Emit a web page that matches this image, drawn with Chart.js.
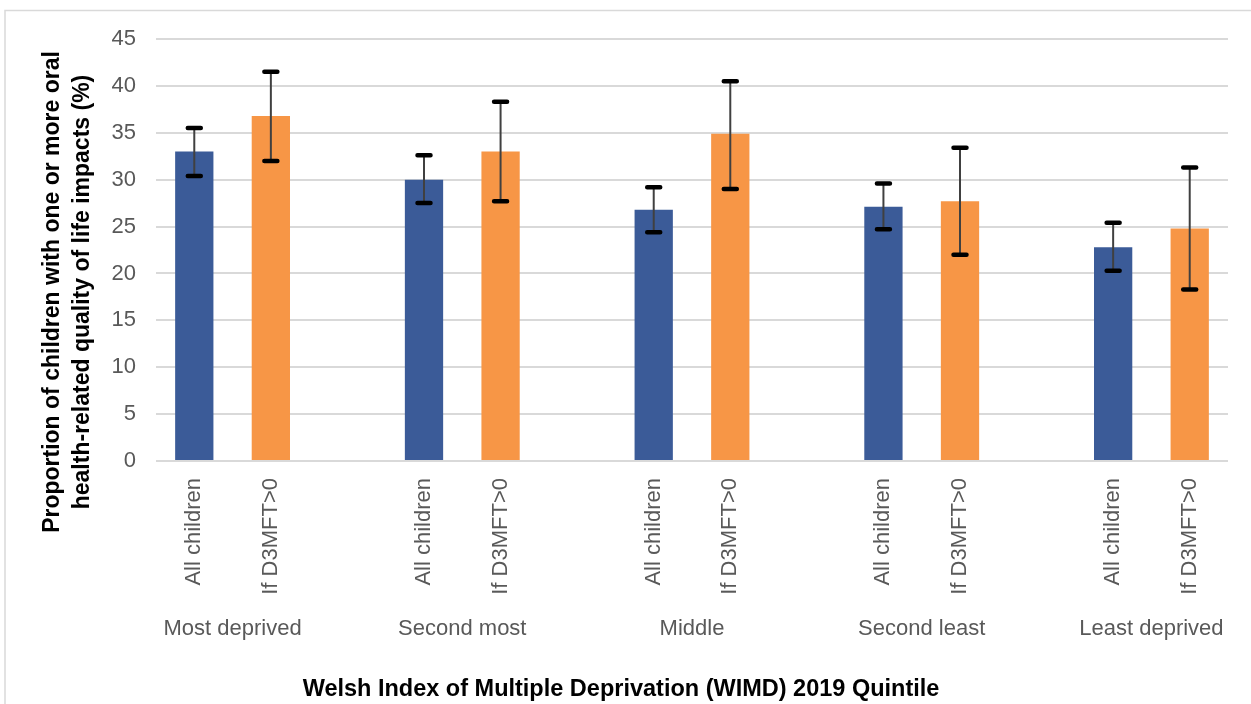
<!DOCTYPE html>
<html>
<head>
<meta charset="utf-8">
<script src="https://cdn.jsdelivr.net/npm/chart.js@4"></script>
<style>
  html, body { margin: 0; padding: 0; background: #fff; }
  #wrap { width: 1251px; height: 704px; }
</style>
</head>
<body>
<div id="wrap"><canvas id="bar-chart" width="1251" height="704"></canvas></div>
<script>
// quintile groups and the two bars inside each
var groups = ["Most deprived", "Second most", "Middle", "Second least", "Least deprived"];
var subLabels = ["All children", "If D3MFT>0"];

// proportion (%) with 95% CI
var allChildren     = [33.0, 30.0, 26.8, 27.1, 22.8];
var allChildrenLow  = [30.4, 27.5, 24.4, 24.7, 20.3];
var allChildrenHigh = [35.5, 32.6, 29.2, 29.6, 25.4];
var d3mft     = [36.8, 33.0, 34.9, 27.7, 24.8];
var d3mftLow  = [32.0, 27.7, 29.0, 22.0, 18.3];
var d3mftHigh = [41.5, 38.3, 40.5, 33.4, 31.3];

var yTicks = [0, 5, 10, 15, 20, 25, 30, 35, 40, 45];

var blue = "#3b5b98";
var orange = "#f79646";
var font = "'Liberation Sans', Arial, sans-serif";

// flatten into one category axis with an empty slot between quintiles
var labels = [], values = [], lows = [], highs = [], colors = [];
groups.forEach(function (g, i) {
  labels.push(subLabels[0]); values.push(allChildren[i]); lows.push(allChildrenLow[i]); highs.push(allChildrenHigh[i]); colors.push(blue);
  labels.push(subLabels[1]); values.push(d3mft[i]); lows.push(d3mftLow[i]); highs.push(d3mftHigh[i]); colors.push(orange);
  if (i < groups.length - 1) {
    labels.push(""); values.push(null); lows.push(null); highs.push(null); colors.push(blue);
  }
});

var extras = {
  id: "extras",
  beforeDraw: function (chart) {
    var c = chart.ctx;
    c.save();
    c.fillStyle = "#fff";
    c.fillRect(0, 0, chart.width, chart.height);
    c.strokeStyle = "#d9d9d9";
    c.lineWidth = 1.5;
    c.beginPath();
    c.moveTo(5, 710);
    c.lineTo(5, 10.5);
    c.lineTo(1260, 10.5);
    c.stroke();
    c.restore();
  },
  afterDatasetsDraw: function (chart) {
    var c = chart.ctx, x = chart.scales.x, y = chart.scales.y;
    c.save();
    values.forEach(function (v, i) {
      if (v === null) return;
      var px = x.getPixelForValue(i);
      var yt = y.getPixelForValue(highs[i]);
      var yb = y.getPixelForValue(lows[i]);
      c.strokeStyle = "#404040";
      c.lineWidth = 2;
      c.lineCap = "butt";
      c.beginPath();
      c.moveTo(px, yt);
      c.lineTo(px, yb);
      c.stroke();
      c.strokeStyle = "#000";
      c.lineWidth = 4.5;
      c.lineCap = "round";
      c.beginPath();
      c.moveTo(px - 6.5, yt); c.lineTo(px + 6.5, yt);
      c.moveTo(px - 6.5, yb); c.lineTo(px + 6.5, yb);
      c.stroke();
    });
    c.restore();
  },
  afterDraw: function (chart) {
    var c = chart.ctx, x = chart.scales.x;
    c.save();
    // quintile names under the rotated labels
    c.fillStyle = "#595959";
    c.font = "22px " + font;
    c.textAlign = "center";
    c.textBaseline = "middle";
    groups.forEach(function (g, i) {
      var a = x.getPixelForValue(i * 3), b = x.getPixelForValue(i * 3 + 1);
      c.fillText(g, (a + b) / 2, 629);
    });
    // axis titles
    c.fillStyle = "#000";
    c.font = "bold 23.5px " + font;
    c.fillText("Welsh Index of Multiple Deprivation (WIMD) 2019 Quintile", 621, 690);
    c.font = "bold 23px " + font;
    c.translate(0, 292);
    c.rotate(-Math.PI / 2);
    c.fillText("Proportion of children with one or more oral", 0, 53);
    c.fillText("health-related quality of life impacts (%)", 0, 83);
    c.restore();
  }
};

new Chart(document.getElementById("bar-chart"), {
  type: "bar",
  data: {
    labels: labels,
    datasets: [{
      data: values,
      backgroundColor: colors,
      categoryPercentage: 1,
      barPercentage: 0.5
    }]
  },
  plugins: [extras],
  options: {
    responsive: false,
    animation: false,
    layout: { padding: { top: 39, right: 23, bottom: 0, left: 0 } },
    plugins: {
      legend: { display: false },
      tooltip: { enabled: false }
    },
    scales: {
      x: {
        grid: { display: false },
        border: { display: false },
        ticks: {
          autoSkip: false,
          minRotation: 90,
          maxRotation: 90,
          padding: 9,
          color: "#595959",
          font: { family: font, size: 22 }
        },
        afterFit: function (s) { s.height = 243; }
      },
      y: {
        min: 0,
        max: 45,
        afterBuildTicks: function (s) { s.ticks = yTicks.map(function (v) { return { value: v }; }); },
        grid: { color: "#d9d9d9", lineWidth: 2, drawTicks: false },
        border: { display: false },
        ticks: {
          padding: 20,
          color: "#595959",
          font: { family: font, size: 22 }
        },
        afterFit: function (s) { s.width = 156; }
      }
    }
  }
});
</script>
</body>
</html>
